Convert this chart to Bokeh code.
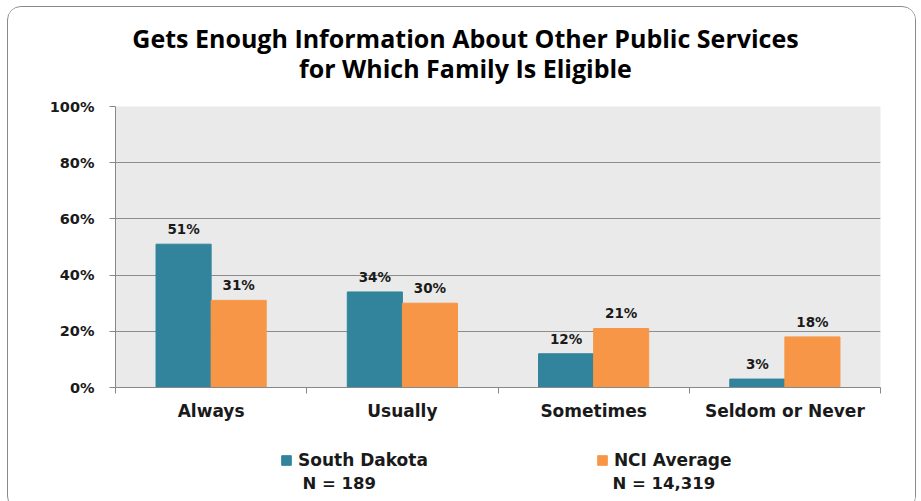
from bokeh.plotting import figure
from bokeh.layouts import column
from bokeh.models import (ColumnDataSource, FixedTicker, LabelSet, Label, Legend, LegendItem, Range1d)
from bokeh.core.properties import value
from bokeh.embed import file_html
from bokeh.resources import INLINE

categories = ["Always", "Usually", "Sometimes", "Seldom or Never"]
south_dakota = [51, 34, 12, 3]
nci_average = [31, 30, 21, 18]
y_ticks = [0, 20, 40, 60, 80, 100]
series_names = ["South Dakota", "NCI Average"]
series_n = ["N = 189", "N = 14,319"]
title_lines = ["Gets Enough Information About Other Public Services", "for Which Family Is Eligible"]

TEAL = "#31849B"
ORANGE = "#F79646"
TXT = "#1a1a1a"
BW = 0.288
W = 907
BL, BR = 107, 35          # left / right borders shared by all stacked figures
FX0, FX1 = BL, W - BR      # frame extent in canvas pixels

centers = [i + 0.5 for i in range(len(categories))]
src_sd = ColumnDataSource(dict(x=[c - BW / 2 for c in centers], y=south_dakota,
                               t=[f"{v}%" for v in south_dakota]))
src_nci = ColumnDataSource(dict(x=[c + BW / 2 for c in centers], y=nci_average,
                                t=[f"{v}%" for v in nci_average]))


def blank(h):
    f = figure(width=W, height=h, output_backend="svg", toolbar_location=None,
               x_range=Range1d(FX0, FX1), y_range=Range1d(0, h),
               min_border_left=BL, min_border_right=BR,
               min_border_top=0, min_border_bottom=0)
    f.axis.visible = False
    f.grid.visible = False
    f.outline_line_color = None
    f.background_fill_color = "white"
    f.border_fill_color = "white"
    return f


# ---- title ----
TH = 79
pt = blank(TH)
for yy, line in zip([49, 19], title_lines):
    pt.add_layout(Label(x=457, y=yy, text=line,
                        text_align="center", text_baseline="middle", text_font="Open Sans",
                        text_font_style="bold", text_font_size="25px", text_color="#000000"))

# ---- main chart ----
p = figure(width=W, height=341, output_backend="svg", toolbar_location=None,
           x_range=Range1d(0, len(categories)), y_range=Range1d(0, 100),
           min_border_left=BL, min_border_right=BR, min_border_top=20, min_border_bottom=40)
p.background_fill_color = "#EAEAEA"
p.border_fill_color = "white"
p.outline_line_color = None

r1 = p.vbar(x="x", top="y", width=BW, source=src_sd, fill_color=TEAL, line_color=TEAL)
r2 = p.vbar(x="x", top="y", width=BW, source=src_nci, fill_color=ORANGE, line_color=ORANGE)

for s in (src_sd, src_nci):
    p.add_layout(LabelSet(x="x", y="y", text="t", source=s, y_offset=15,
                          text_align="center", text_baseline="middle",
                          text_font=value("DejaVu Sans"), text_font_style="bold",
                          text_font_size="13.5px", text_color=TXT))

p.xaxis.ticker = FixedTicker(ticks=centers, minor_ticks=list(range(len(categories) + 1)))
p.xaxis.major_label_overrides = {c: n for c, n in zip(centers, categories)}
p.xaxis.major_tick_line_color = None
p.xaxis.major_tick_out = 0
p.xaxis.major_tick_in = 0
p.xaxis.minor_tick_line_color = "#888888"
p.xaxis.minor_tick_out = 6
p.xaxis.minor_tick_in = 0
p.xaxis.axis_line_color = "#888888"
p.xaxis.major_label_text_font = "DejaVu Sans"
p.xaxis.major_label_text_font_style = "bold"
p.xaxis.major_label_text_font_size = "17px"
p.xaxis.major_label_text_color = TXT
p.xaxis.major_label_standoff = 7
p.xgrid.grid_line_color = None

p.yaxis.ticker = FixedTicker(ticks=y_ticks, minor_ticks=[])
p.yaxis.major_label_overrides = {t: f"{t}%" for t in y_ticks}
p.yaxis.axis_line_color = "#888888"
p.yaxis.major_tick_line_color = "#888888"
p.yaxis.major_tick_out = 6
p.yaxis.major_tick_in = 0
p.yaxis.major_label_text_font = "DejaVu Sans"
p.yaxis.major_label_text_font_style = "bold"
p.yaxis.major_label_text_font_size = "14.5px"
p.yaxis.major_label_text_color = TXT
p.yaxis.major_label_standoff = 15
p.ygrid.grid_line_color = "#8c8c8c"
p.ygrid.grid_line_width = 1

# ---- legend ----
LH = 82
pl = blank(LH)
d1 = pl.vbar(x=[-1e6], top=[1], width=1, fill_color=TEAL, line_color=TEAL)
d2 = pl.vbar(x=[-1e6], top=[1], width=1, fill_color=ORANGE, line_color=ORANGE)
legend = Legend(items=[LegendItem(label=series_names[0], renderers=[d1]),
                       LegendItem(label=series_names[1], renderers=[d2])],
                orientation="horizontal", location=(165, 39), glyph_width=12, glyph_height=12,
                label_standoff=6, spacing=168, padding=0, margin=0,
                border_line_color=None, background_fill_alpha=0,
                label_text_font="DejaVu Sans", label_text_font_style="bold",
                label_text_font_size="17px", label_text_color=TXT)
pl.add_layout(legend, "center")
for xx, txt in zip([294, 604], series_n):
    pl.add_layout(Label(x=xx, y=26, text=txt,
                        text_align="left", text_baseline="middle", text_font="DejaVu Sans",
                        text_font_style="bold", text_font_size="16.5px", text_color=TXT))

layout = column(pt, p, pl, spacing=0)
layout.styles = {"border": "1.5px solid #8a8a8a", "border-radius": "14px",
                 "margin-left": "7px", "margin-top": "6px", "overflow": "hidden"}

open("out.html", "w").write(file_html(layout, INLINE))
